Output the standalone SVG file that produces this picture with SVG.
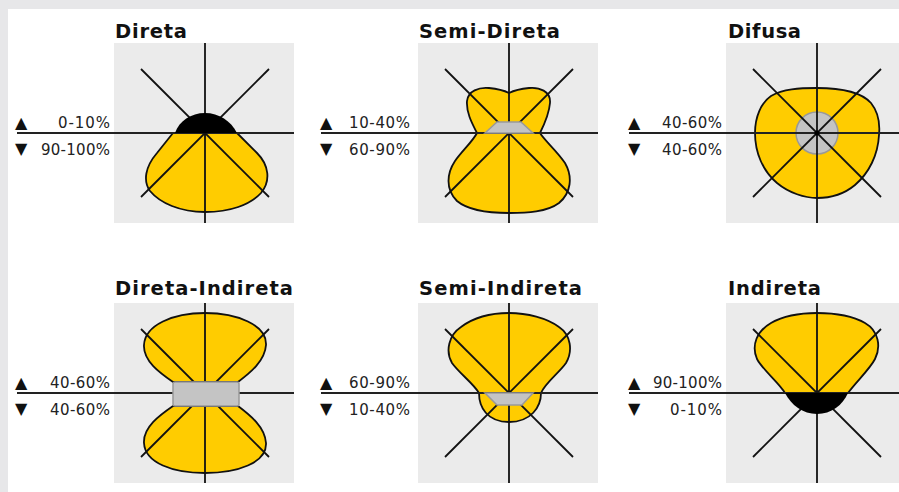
<svg xmlns="http://www.w3.org/2000/svg" width="899" height="492" viewBox="0 0 899 492">
<style>
.title{font-family:"DejaVu Sans","Liberation Sans",sans-serif;font-weight:bold;font-size:19.5px;fill:#111}
.lbl{font-family:"DejaVu Sans","Liberation Sans",sans-serif;font-size:15px;fill:#222;text-anchor:end}
.arr{font-family:"DejaVu Sans",sans-serif;font-size:16px;fill:#111}
.box{fill:#ebebeb}
.axis{stroke:#222;stroke-width:2;fill:none}
.ray{stroke:#111;stroke-width:1.8;fill:none}
.lobe{fill:#ffcc00;stroke:#111;stroke-width:1.8;stroke-linejoin:round}
.lamp{fill:#c4c4c4;stroke:#999;stroke-width:1.5}
.dark{fill:#000}
</style>
<defs>
<g id="rays">
<line class="ray" x1="0" y1="-90" x2="0" y2="90"/>
<line class="ray" x1="-64" y1="-64" x2="64" y2="64"/>
<line class="ray" x1="64" y1="-64" x2="-64" y2="64"/>
</g>
</defs>
<rect x="0" y="0" width="899" height="492" fill="#e7e7e9"/>
<rect x="8" y="9" width="891" height="483" fill="#ffffff"/>

<g id="direta">
<text class="title" x="115" y="38" textLength="72">Direta</text>
<text class="arr" x="15" y="128">▲</text>
<text class="arr" x="15" y="154">▼</text>
<text class="lbl" x="110" y="128" textLength="52">0-10%</text>
<text class="lbl" x="110" y="155" textLength="69">90-100%</text>
<g transform="translate(205,133)">
<rect class="box" x="-91" y="-90" width="180" height="180"/>
<path class="lobe" d="M -32 0 L -48 20 C -60 34 -62 48 -55 58 C -45 70 -25 79 0 79 C 25 79 45 72 56 60 C 66 48 64 32 52 20 L 32 0 Z"/>
<line class="axis" x1="-188" y1="0" x2="89" y2="0"/>
<use href="#rays"/>
<path class="dark" d="M -30 0 C -26 -12 -14 -20 0 -20 C 14 -20 26 -12 32 0 Z"/>
</g>
</g>

<g id="semi-direta">
<text class="title" x="419" y="38" textLength="141">Semi-Direta</text>
<text class="arr" x="320" y="128">▲</text>
<text class="arr" x="320" y="154">▼</text>
<text class="lbl" x="410" y="128" textLength="61">10-40%</text>
<text class="lbl" x="410" y="155" textLength="61">60-90%</text>
<g transform="translate(509,133)">
<rect class="box" x="-91" y="-90" width="180" height="180"/>
<path class="lobe" d="M -32 0 C -36 -8 -43 -20 -42 -32 C -41 -42 -30 -46 -20 -45 C -10 -44 -4 -42 0 -40 C 4 -42 10 -44 20 -45 C 30 -46 42 -42 41 -30 C 40 -18 35 -8 31 0 C 36 8 48 18 56 30 C 64 44 62 60 50 70 C 38 79 18 80 0 80 C -18 80 -40 78 -52 68 C -64 56 -62 40 -54 28 C -47 18 -36 8 -32 0 Z"/>
<line class="axis" x1="-188" y1="0" x2="89" y2="0"/>
<use href="#rays"/>
<path class="lamp" d="M -24 0 L -12 -11 L 12 -11 L 24 0 Z"/>
</g>
</g>

<g id="difusa">
<text class="title" x="728" y="38" textLength="73">Difusa</text>
<text class="arr" x="628" y="128">▲</text>
<text class="arr" x="628" y="154">▼</text>
<text class="lbl" x="722" y="128" textLength="60">40-60%</text>
<text class="lbl" x="722" y="155" textLength="60">40-60%</text>
<g transform="translate(817,133)">
<rect class="box" x="-91" y="-90" width="180" height="180"/>
<path class="lobe" d="M 0 -45 C 25 -45 45 -40 54 -30 C 62 -20 63 -8 62 2 C 61 22 52 40 38 52 C 26 62 12 65 0 65 C -12 65 -28 60 -40 50 C -54 38 -62 20 -62 0 C -62 -16 -56 -30 -46 -37 C -34 -44 -18 -45 0 -45 Z"/>
<circle class="lamp" cx="0" cy="0" r="21"/>
<line class="axis" x1="-188" y1="0" x2="89" y2="0"/>
<use href="#rays"/>
<circle class="dark" cx="0" cy="0" r="2.5"/>
</g>
</g>

<g id="direta-indireta">
<text class="title" x="115" y="295" textLength="178">Direta-Indireta</text>
<text class="arr" x="15" y="388">▲</text>
<text class="arr" x="15" y="414">▼</text>
<text class="lbl" x="110" y="388" textLength="60">40-60%</text>
<text class="lbl" x="110" y="415" textLength="60">40-60%</text>
<g transform="translate(205,393)">
<rect class="box" x="-91" y="-90" width="180" height="180"/>
<path class="lobe" d="M -32 -11 C -45 -20 -62 -32 -61 -48 C -60 -68 -32 -80 0 -80 C 32 -80 62 -68 61 -48 C 60 -32 45 -20 33 -11 Z"/>
<path class="lobe" d="M -32 13 C -45 22 -62 34 -61 50 C -60 70 -32 80 0 80 C 32 80 62 70 61 50 C 60 34 45 22 33 13 Z"/>
<line class="axis" x1="-188" y1="0" x2="89" y2="0"/>
<use href="#rays"/>
<rect class="lamp" x="-32" y="-11" width="66" height="24" rx="2"/>
</g>
</g>

<g id="semi-indireta">
<text class="title" x="419" y="295" textLength="163">Semi-Indireta</text>
<text class="arr" x="320" y="388">▲</text>
<text class="arr" x="320" y="414">▼</text>
<text class="lbl" x="410" y="388" textLength="61">60-90%</text>
<text class="lbl" x="410" y="415" textLength="61">10-40%</text>
<g transform="translate(509,393)">
<rect class="box" x="-91" y="-90" width="180" height="180"/>
<path class="lobe" d="M -30 0 C -36 -10 -50 -20 -57 -30 C -64 -42 -60 -58 -48 -66 C -36 -75 -18 -80 0 -80 C 18 -80 38 -75 50 -66 C 62 -58 64 -42 57 -30 C 50 -20 36 -10 32 0 C 32 14 22 29 0 29 C -22 29 -30 14 -30 0 Z"/>
<line class="axis" x1="-188" y1="0" x2="89" y2="0"/>
<use href="#rays"/>
<path class="lamp" d="M -24 0 L 24 0 L 13 12 L -12 12 Z"/>
</g>
</g>

<g id="indireta">
<text class="title" x="728" y="295" textLength="93">Indireta</text>
<text class="arr" x="628" y="388">▲</text>
<text class="arr" x="628" y="414">▼</text>
<text class="lbl" x="722" y="388" textLength="69">90-100%</text>
<text class="lbl" x="722" y="415" textLength="52">0-10%</text>
<g transform="translate(817,393)">
<rect class="box" x="-91" y="-90" width="180" height="180"/>
<path class="lobe" d="M -32 0 C -38 -10 -55 -24 -60 -34 C -66 -48 -60 -62 -46 -70 C -32 -78 -16 -80 0 -80 C 16 -80 34 -78 48 -70 C 62 -62 64 -46 58 -34 C 53 -24 38 -10 31 0 Z"/>
<line class="axis" x1="-188" y1="0" x2="89" y2="0"/>
<use href="#rays"/>
<path class="dark" d="M -32 0 C -26 12 -14 21 0 21 C 14 21 26 12 31 0 Z"/>
</g>
</g>
</svg>
